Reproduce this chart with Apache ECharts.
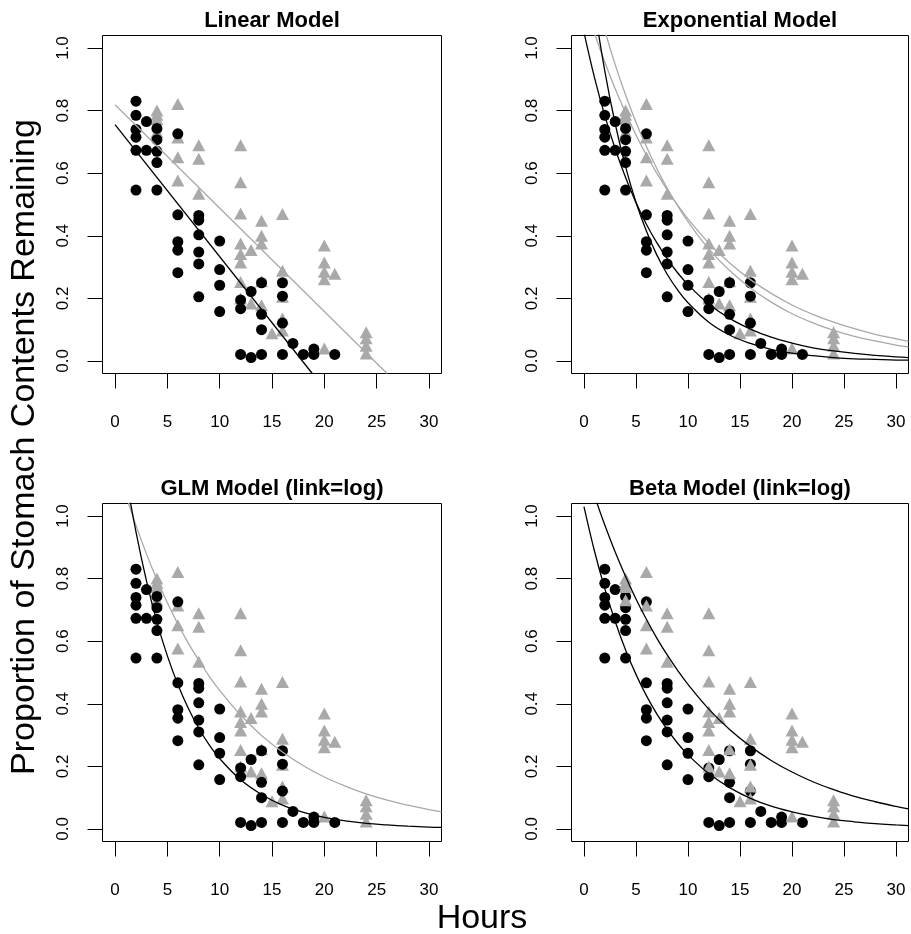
<!DOCTYPE html>
<html>
<head>
<meta charset="utf-8">
<script src="https://cdn.jsdelivr.net/npm/echarts@6/dist/echarts.min.js"></script>
<style>
  html, body { margin: 0; padding: 0; background: #fff; }
  #main { width: 911px; height: 934px; }
</style>
</head>
<body>
<div id="main"></div>
<script>
// observed points, same in all four panels
var blackHours = [2, 2, 2, 2, 2, 2, 3, 3, 4, 4, 4, 4, 4, 6, 6, 6, 6, 6, 8, 8, 8, 8, 8, 8,
  10, 10, 10, 10, 12, 12, 12, 13, 13, 14, 14, 14, 14, 16, 16, 16, 16, 17, 18, 19, 19, 21];
var blackProp = [0.83, 0.785, 0.74, 0.715, 0.673, 0.546, 0.765, 0.673, 0.743, 0.707, 0.67, 0.634, 0.546,
  0.726, 0.467, 0.381, 0.354, 0.282, 0.465, 0.45, 0.403, 0.348, 0.31, 0.205,
  0.383, 0.292, 0.242, 0.158, 0.195, 0.167, 0.021, 0.222, 0.011, 0.25, 0.149, 0.1, 0.021,
  0.25, 0.207, 0.121, 0.021, 0.056, 0.021, 0.038, 0.021, 0.021];
var grayHours = [4, 4, 4, 4, 6, 6, 6, 6, 8, 8, 8, 12, 12, 12, 12, 12, 12, 12, 12, 13, 13,
  14, 14, 14, 14, 14, 15, 16, 16, 16, 16, 16, 20, 20, 20, 20, 20, 21, 24, 24, 24, 24];
var grayProp = [0.8, 0.787, 0.773, 0.731, 0.821, 0.714, 0.651, 0.577, 0.689, 0.646, 0.534,
  0.689, 0.571, 0.471, 0.375, 0.342, 0.315, 0.252, 0.2, 0.355, 0.184,
  0.448, 0.4, 0.375, 0.255, 0.178, 0.089, 0.47, 0.288, 0.205, 0.136, 0.097,
  0.369, 0.315, 0.285, 0.261, 0.04, 0.279, 0.092, 0.073, 0.049, 0.024];

// fitted lines / curves
var linBlack = [[0, 0.755], [18.85, -0.04]];
var linGray = [[0, 0.819], [26.0, -0.04]];
var curveHours = [0, 1, 2, 3, 4, 5, 6, 7, 8, 9, 10, 12, 14, 16, 18, 20, 22, 24, 26, 28, 30, 31.2];
var expBlackA = [1.05, 0.907, 0.784, 0.678, 0.586, 0.506, 0.437, 0.378, 0.327, 0.282, 0.244, 0.182, 0.136, 0.102, 0.076, 0.057, 0.042, 0.032, 0.024, 0.018, 0.013, 0.011];
var expBlackB = [1.385, 1.133, 0.927, 0.758, 0.62, 0.507, 0.415, 0.339, 0.277, 0.227, 0.186, 0.124, 0.083, 0.056, 0.037, 0.025, 0.017, 0.011, 0.007, 0.005, 0.003, 0.003];
var expGrayA = [1.15, 1.048, 0.955, 0.87, 0.793, 0.722, 0.658, 0.6, 0.547, 0.498, 0.454, 0.377, 0.313, 0.26, 0.216, 0.179, 0.149, 0.124, 0.103, 0.085, 0.071, 0.063];
var expGrayB = [1.31, 1.176, 1.056, 0.947, 0.85, 0.763, 0.685, 0.615, 0.552, 0.496, 0.445, 0.358, 0.289, 0.233, 0.188, 0.151, 0.122, 0.098, 0.079, 0.064, 0.051, 0.045];
var glmBlack = [1.36, 1.136, 0.949, 0.793, 0.662, 0.553, 0.462, 0.386, 0.322, 0.269, 0.225, 0.157, 0.11, 0.076, 0.053, 0.037, 0.026, 0.018, 0.013, 0.009, 0.006, 0.005];
var glmGray = [1.18, 1.07, 0.97, 0.879, 0.797, 0.723, 0.655, 0.594, 0.539, 0.488, 0.443, 0.364, 0.299, 0.246, 0.202, 0.166, 0.137, 0.112, 0.092, 0.076, 0.062, 0.055];
var betaLow = [1.03, 0.889, 0.768, 0.663, 0.572, 0.494, 0.426, 0.368, 0.318, 0.274, 0.237, 0.177, 0.132, 0.098, 0.073, 0.055, 0.041, 0.03, 0.023, 0.017, 0.013, 0.011];
var betaHigh = [1.17, 1.066, 0.971, 0.885, 0.807, 0.735, 0.67, 0.61, 0.556, 0.507, 0.462, 0.383, 0.318, 0.264, 0.219, 0.182, 0.151, 0.126, 0.104, 0.087, 0.072, 0.064];

var xTicks = [0, 5, 10, 15, 20, 25, 30];
var yTicks = [0, 0.2, 0.4, 0.6, 0.8, 1.0];
var titles = ['Linear Model', 'Exponential Model', 'GLM Model (link=log)', 'Beta Model (link=log)'];

var GRAY = '#a9a9a9';
var FONT = "'Liberation Sans', Arial, sans-serif";

function pts(hs, ps) {
  return hs.map(function (h, i) { return [h, ps[i]]; });
}
function curve(ys) {
  return curveHours.map(function (h, i) { return [h, ys[i]]; });
}

// panel boxes
var boxes = [
  {left: 102.5, top: 35.5, width: 339, height: 338},
  {left: 571.5, top: 35.5, width: 337, height: 338},
  {left: 102.5, top: 503.5, width: 339, height: 338},
  {left: 571.5, top: 503.5, width: 337, height: 338}
];
// curves for each panel: [data, colour]
var panelLines = [
  [[linGray, GRAY], [linBlack, '#000']],
  [[curve(expGrayA), GRAY], [curve(expGrayB), GRAY], [curve(expBlackA), '#000'], [curve(expBlackB), '#000']],
  [[curve(glmGray), GRAY], [curve(glmBlack), '#000']],
  [[curve(betaHigh), '#000'], [curve(betaLow), '#000']]
];

var grids = [], xAxes = [], yAxes = [], series = [], titleOpts = [];
boxes.forEach(function (b, i) {
  grids.push({left: b.left, top: b.top, width: b.width, height: b.height,
    show: true, borderColor: '#000', borderWidth: 1, containLabel: false});
  xAxes.push({
    gridIndex: i, type: 'value', min: -1.2, max: 31.2,
    splitLine: {show: false},
    axisLine: {show: false, onZero: false},
    axisTick: {show: true, length: 15, customValues: xTicks, lineStyle: {color: '#000', width: 1}},
    axisLabel: {customValues: xTicks, margin: 40, fontSize: 17, color: '#000', fontFamily: FONT}
  });
  yAxes.push({
    gridIndex: i, type: 'value', min: -0.04, max: 1.04,
    splitLine: {show: false},
    axisLine: {show: false, onZero: false},
    axisTick: {show: true, length: 15, customValues: yTicks, lineStyle: {color: '#000', width: 1}},
    axisLabel: {customValues: yTicks, rotate: 90, margin: 31, fontSize: 17, color: '#000', fontFamily: FONT,
      formatter: function (v) { return v.toFixed(1); }}
  });
  titleOpts.push({
    text: titles[i], left: b.left + b.width / 2, top: b.top - 25.5, textAlign: 'center', padding: 0,
    textStyle: {fontSize: 22, fontWeight: 'bold', color: '#000', fontFamily: FONT}
  });

  var tri = {
    type: 'scatter', xAxisIndex: i, yAxisIndex: i, silent: true,
    symbol: 'triangle', symbolSize: [13, 12], itemStyle: {color: GRAY, opacity: 1},
    data: pts(grayHours, grayProp)
  };
  var dots = {
    type: 'scatter', xAxisIndex: i, yAxisIndex: i, silent: true,
    symbol: 'circle', symbolSize: 11, itemStyle: {color: '#000', opacity: 1},
    data: pts(blackHours, blackProp)
  };
  // beta panel draws the triangles over the dots
  if (i === 3) { series.push(dots, tri); } else { series.push(tri, dots); }

  panelLines[i].forEach(function (l) {
    series.push({
      type: 'line', xAxisIndex: i, yAxisIndex: i, silent: true,
      data: l[0], showSymbol: false, symbol: 'none', smooth: 0.4, clip: true,
      lineStyle: {color: l[1], width: 1.3}
    });
  });
});

var chart = echarts.init(document.getElementById('main'));
chart.setOption({
  animation: false,
  backgroundColor: '#fff',
  title: titleOpts,
  grid: grids,
  xAxis: xAxes,
  yAxis: yAxes,
  series: series,
  graphic: [
    {
      type: 'text', x: 482, y: 919,
      style: {text: 'Hours', fontSize: 34, fontFamily: FONT, fill: '#000', align: 'center', verticalAlign: 'middle'}
    },
    {
      type: 'text', x: 25, y: 447, rotation: Math.PI / 2,
      style: {text: 'Proportion of Stomach Contents Remaining', fontSize: 34, fontFamily: FONT, fill: '#000',
        align: 'center', verticalAlign: 'middle'}
    }
  ]
});
</script>
</body>
</html>
